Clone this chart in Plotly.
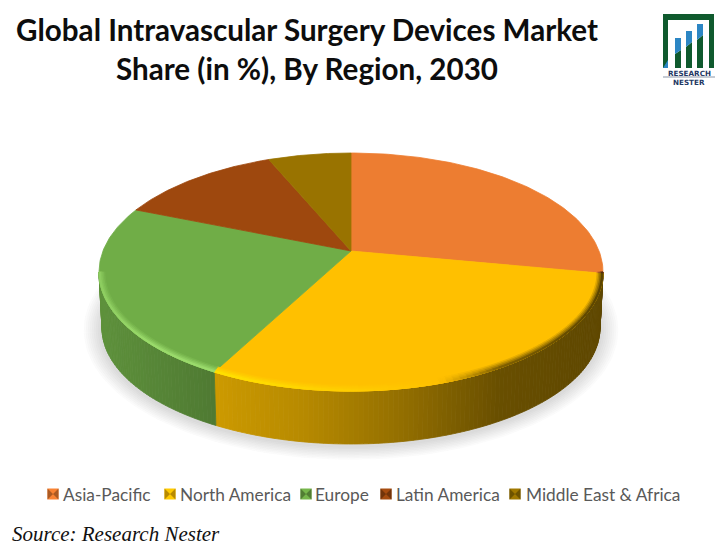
import numpy as np
import plotly.graph_objects as go

# ---- data -----------------------------------------------------------------
regions = ["Asia-Pacific", "North America", "Europe", "Latin America", "Middle East & Africa"]
shares = [28.0, 29.7, 23.5, 12.5, 6.3]
slice_colors = ["#ED7D31", "#FFC000", "#70AD47", "#9E480E", "#997300"]
rim_colors = ["#F4A060", "#FFE100", "#9BDB6C", "#C06A28", "#BB9000"]
wall_gain = [0.85, 1.0, 0.88, 0.85, 0.85]
title_lines = ["Global Intravascular Surgery Devices Market", "Share (in %), By Region, 2030"]
source_text = "Source: Research Nester"
legend_text_x = [63, 180, 315, 396, 526]
legend_marker_x = [53, 170, 306, 386, 515]

# ---- geometry of the tilted disc (pixel space of the axes) ------------------
CX, CY_HUB = 351.0, 251.0
BACK, FRONT = 98.0, 140.0
K = (FRONT - BACK) / (FRONT + BACK)
A = BACK * (1 + K)
R = 252.0 * np.sqrt(1 - K * K)
EY, ERX, ERY = CY_HUB + A * K / (1 - K * K), 252.0, (BACK + FRONT) / 2
BY, BRX, BRY = 328.0, 249.0, 116.0


def project(theta):
    u, v = np.sin(theta), np.cos(theta)
    return CX + R * u / (1 + K * v), CY_HUB - A * v / (1 + K * v)


def ell_param(theta):
    x, y = project(theta)
    return np.arctan2((y - EY) / ERY, (x - CX) / ERX)


def rgb(c):
    return np.array([int(c[i:i + 2], 16) for i in (1, 3, 5)], float)


def css(a):
    a = np.clip(a, 0, 255)
    return f"rgb({a[0]:.0f},{a[1]:.0f},{a[2]:.0f})"


def wall_factor(x):
    return np.interp(x, [99, 215, 300, 400, 500, 603], [0.95, 0.80, 0.72, 0.58, 0.41, 0.37])


def rim_color(base, hi, x):
    t = np.interp(x, [99, 150, 215, 340, 440, 500, 603], [0.7, 1.0, 1.0, 0.45, 0.0, -0.5, -0.65])
    if t >= 0:
        return base + (hi - base) * t
    return base * (1 + t)


fig = go.Figure()


def poly(xs, ys, color):
    fig.add_trace(go.Scatter(x=xs, y=ys, mode="lines", fill="toself", fillcolor=color,
                             line=dict(color=color, width=0.8), hoverinfo="skip", showlegend=False))


# soft shadow below the disc
for g in range(9, 0, -1):
    t = np.linspace(0, 2 * np.pi, 160)
    poly(CX + (BRX + 2 * g) * np.cos(t), BY + 2 + (BRY + 1.5 * g) * np.sin(t), "rgba(0,0,0,0.016)")

edges = np.concatenate([[0], np.cumsum(shares)]) / sum(shares) * 2 * np.pi

# side wall, split in strips for the shading
for i, c in enumerate(slice_colors):
    p0, p1 = ell_param(edges[i]), ell_param(edges[i + 1])
    if p1 < p0:
        p1 += 2 * np.pi
    lo, hi = max(p0, 0.0), min(p1, np.pi)
    if hi <= lo:
        continue
    n = max(2, int((hi - lo) / 0.02))
    ph = np.linspace(lo, hi, n + 1)
    base = rgb(c)
    for a, b in zip(ph[:-1], ph[1:]):
        s = np.array([a, b])
        xt, yt = CX + ERX * np.cos(s), EY + ERY * np.sin(s)
        xb, yb = CX + BRX * np.cos(s[::-1]), BY + BRY * np.sin(s[::-1])
        poly(np.r_[xt, xb, xt[0]], np.r_[yt, yb, yt[0]],
             css(base * wall_factor(xt.mean()) * wall_gain[i]))

# top face
for i, c in enumerate(slice_colors):
    th = np.linspace(edges[i], edges[i + 1], 90)
    x, y = project(th)
    poly(np.r_[CX, x, CX], np.r_[CY_HUB, y, CY_HUB], c)

# bevel along the front rim
for inset, w in [(6.0, 0.2), (4.5, 0.45), (3.0, 0.7), (1.5, 1.0)]:
    for i, c in enumerate(slice_colors):
        p0, p1 = ell_param(edges[i]), ell_param(edges[i + 1])
        if p1 < p0:
            p1 += 2 * np.pi
        lo, hi = max(p0, 0.0), min(p1, np.pi)
        if hi <= lo:
            continue
        n = max(2, int((hi - lo) / 0.03))
        ph = np.linspace(lo, hi, n + 1)
        base, top = rgb(c), rgb(rim_colors[i])
        for a, b in zip(ph[:-1], ph[1:]):
            s = np.array([a, b])
            xo, yo = CX + ERX * np.cos(s), EY + ERY * np.sin(s)
            xi = CX + (ERX - inset) * np.cos(s[::-1])
            yi = EY + (ERY - inset) * np.sin(s[::-1])
            col = base + (rim_color(base, top, xo.mean()) - base) * w
            poly(np.r_[xo, xi, xo[0]], np.r_[yo, yi, yo[0]], css(col))

# legend keys and labels
LEG_Y = 494
for name, c, mx, tx in zip(regions, slice_colors, legend_marker_x, legend_text_x):
    base = rgb(c)
    fig.add_trace(go.Scatter(x=[mx], y=[LEG_Y], mode="markers", hoverinfo="skip", showlegend=False,
                             marker=dict(symbol="square", size=11, color=css(base * 1.05), line=dict(width=0))))
    fig.add_trace(go.Scatter(x=[mx], y=[LEG_Y], mode="markers", hoverinfo="skip", showlegend=False,
                             marker=dict(symbol="bowtie", size=11, color=css(base * 0.72), line=dict(width=0))))
    fig.add_annotation(x=tx, y=LEG_Y, text=name, showarrow=False, xanchor="left", yanchor="middle",
                       xshift=-2, font=dict(family="Lato", size=17.3, color="#595959"))

fig.add_annotation(x=12, y=534, text=source_text, showarrow=False, xanchor="left", yanchor="middle", xshift=-2,
                   font=dict(family="Liberation Serif", size=21, color="#111111", style="italic"))

# logo
shapes = []


def logo_poly(pts, color):
    d = "M" + " L".join(f"{a},{b}" for a, b in pts) + " Z"
    shapes.append(dict(type="path", path=d, xref="x", yref="y", fillcolor=color, line=dict(width=0), layer="above"))


G, B = "#0F5A2E", "#2C86C4"
logo_poly([(663, 14), (714, 14), (714, 68), (709, 68), (709, 20), (668, 20), (668, 68), (663, 68)], G)
logo_poly([(663, 68), (668, 60), (668, 68)], B)
for x0, top, lo_l, lo_r in [(675, 38, 54, 50), (686, 31, 47, 42), (697, 24, 40, 35)]:
    logo_poly([(x0, lo_l), (x0 + 6, lo_r), (x0 + 6, 68), (x0, 68)], G)
    logo_poly([(x0, top), (x0 + 6, top), (x0 + 6, lo_r), (x0, lo_l)], B)
shapes.append(dict(type="line", x0=663, x1=715, y0=77, y1=77, xref="x", yref="y", line=dict(color="#8C97A8", width=1)))
fig.add_annotation(x=689, y=73, text="<b>RESEARCH</b>", showarrow=False, font=dict(family="DejaVu Sans", size=7.2, color="#1F3864"))
fig.add_annotation(x=689, y=82, text="<b>NESTER</b>", showarrow=False, font=dict(family="DejaVu Sans", size=7.2, color="#1F3864"))

title_html = "<br>".join(f'<span style="font-size:29.6px">{t}</span>' for t in title_lines)
fig.update_layout(
    width=728, height=549, margin=dict(l=0, r=0, t=0, b=0),
    paper_bgcolor="white", plot_bgcolor="white", showlegend=False, shapes=shapes,
    title=dict(text=title_html, x=307 / 728, y=1 - 41 / 549, xanchor="center", yanchor="middle",
               font=dict(family="Lato", size=30, color="#0D0D0D", weight="bold")),
    xaxis=dict(range=[0, 728], visible=False, fixedrange=True),
    yaxis=dict(range=[549, 0], visible=False, fixedrange=True),
)
fig.write_html("out.html", config=dict(displayModeBar=False),
               post_script="document.body.style.margin='0';document.documentElement.style.overflow='hidden';window.dispatchEvent(new Event('resize'));")
